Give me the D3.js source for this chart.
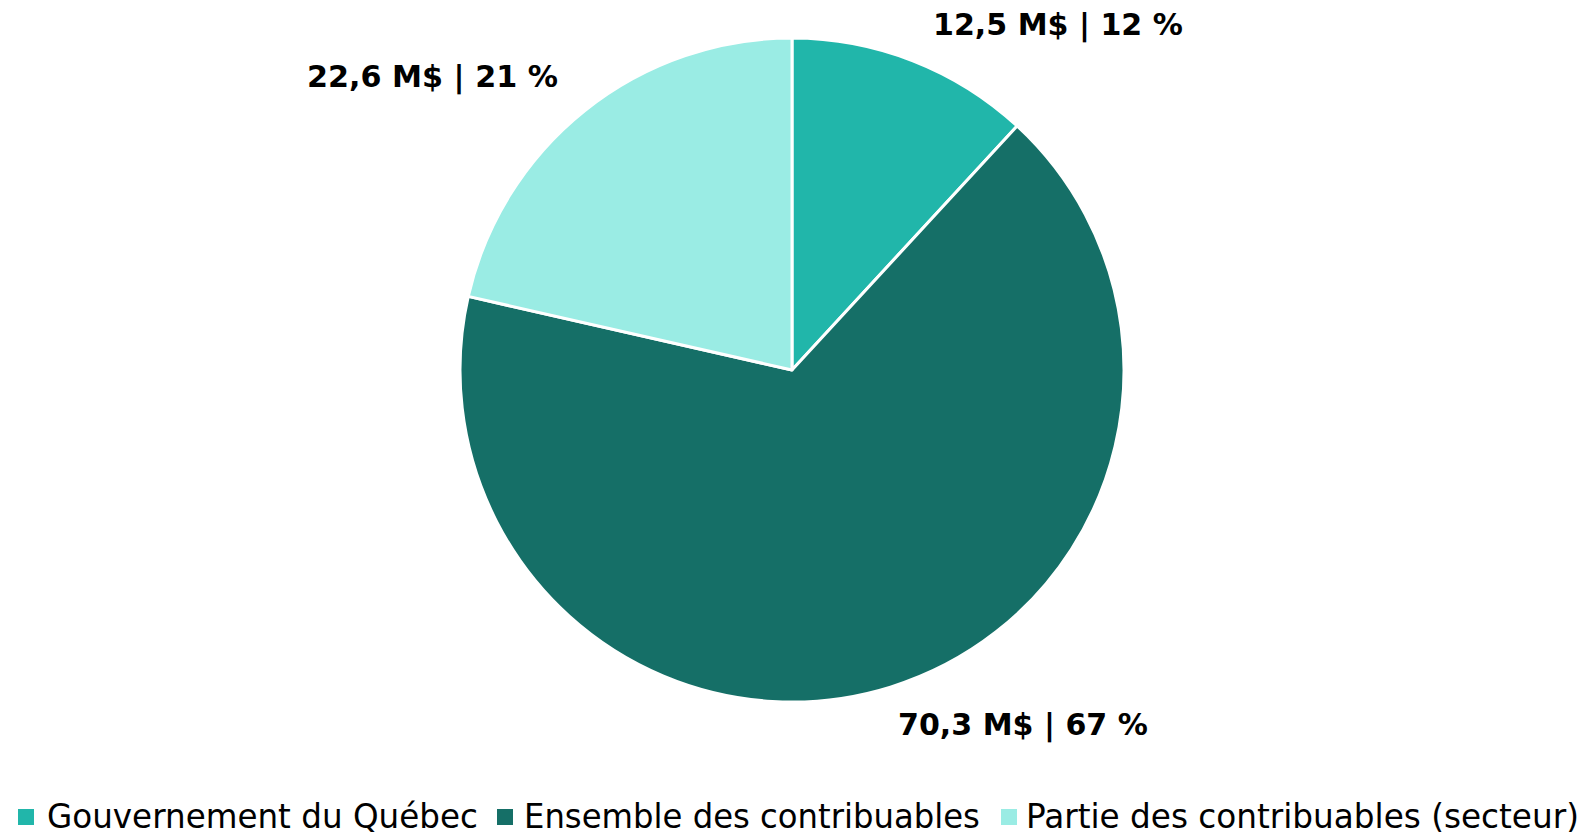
<!DOCTYPE html>
<html>
<head>
<meta charset="utf-8">
<script src="https://cdn.jsdelivr.net/npm/d3@7/dist/d3.min.js"></script>
<style>
  html, body { margin: 0; padding: 0; background: #fff; }
  svg { display: block; }
</style>
</head>
<body>
<svg id="chart" width="1588" height="837"></svg>
<script>
// ---- Data ----
const categories = ["Gouvernement du Québec", "Ensemble des contribuables", "Partie des contribuables (secteur)"];
const amounts = [12.5, 70.3, 22.6];            // M$
const percentLabels = ["12 %", "67 %", "21 %"];
const amountLabels = ["12,5 M$", "70,3 M$", "22,6 M$"];
const colors = ["#21b6aa", "#156f67", "#9aece4"];

// ---- Layout ----
const W = 1588, H = 837;
const cx = 792, cy = 370, R = 332;
const labelLayout = [
  { x: 1058, y: 35, w: 250 },
  { x: 1023, y: 735, w: 250 },
  { x: 432.5, y: 87, w: 251 }
];
const legendLayout = [
  { sx: 18, tx: 47, tw: 431 },
  { sx: 497, tx: 524, tw: 456 },
  { sx: 1001, tx: 1026, tw: 553 }
];

const svg = d3.select("#chart");
const data = categories.map((c, i) => ({ cat: c, value: amounts[i], i }));

const pie = d3.pie().sort(null).value(d => d.value);
const arc = d3.arc().innerRadius(0).outerRadius(R);
const color = d3.scaleOrdinal().domain(categories).range(colors);

const g = svg.append("g").attr("transform", `translate(${cx},${cy})`);
g.selectAll("path")
  .data(pie(data))
  .join("path")
  .attr("d", arc)
  .attr("fill", d => color(d.data.cat))
  .attr("stroke", "#fff")
  .attr("stroke-width", 3)
  .attr("stroke-linejoin", "round");

// fit a text horizontally to a target width via scale transform
function fitX(sel, left, baseline, width, anchor) {
  sel.each(function(d) {
    const t = d3.select(this);
    const L = left(d), B = baseline(d), Wt = width(d);
    t.attr("x", 0).attr("y", 0);
    const nat = this.getComputedTextLength();
    const s = Wt / nat;
    const x0 = anchor === "middle" ? L - Wt / 2 : L;
    t.attr("text-anchor", "start")
     .attr("transform", `translate(${x0},${B}) scale(${s},1)`);
  });
}

// Data labels
const lbls = svg.selectAll("text.lbl")
  .data(data)
  .join("text")
  .attr("class", "lbl")
  .attr("font-family", "DejaVu Sans, Verdana, sans-serif")
  .attr("font-weight", "bold")
  .attr("font-size", 30)
  .attr("fill", "#000")
  .text(d => `${amountLabels[d.i]} | ${percentLabels[d.i]}`);
fitX(lbls, d => labelLayout[d.i].x, d => labelLayout[d.i].y, d => labelLayout[d.i].w, "middle");

// Legend
const leg = svg.append("g");
const items = leg.selectAll("g").data(data).join("g");
items.append("rect")
  .attr("x", d => legendLayout[d.i].sx)
  .attr("y", 809)
  .attr("width", 16)
  .attr("height", 16)
  .attr("fill", d => color(d.cat));
const legTexts = items.append("text")
  .attr("font-family", "DejaVu Sans, Tahoma, sans-serif")
  .attr("font-size", 34)
  .attr("fill", "#000")
  .text(d => d.cat);
fitX(legTexts, d => legendLayout[d.i].tx, () => 828, d => legendLayout[d.i].tw, "start");
</script>
</body>
</html>
